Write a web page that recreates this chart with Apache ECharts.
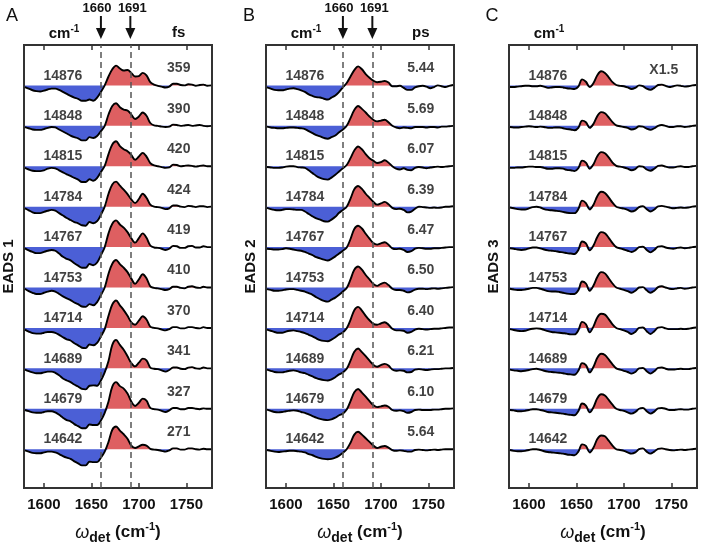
<!DOCTYPE html>
<html>
<head>
<meta charset="utf-8">
<script src="https://cdn.jsdelivr.net/npm/echarts@6/dist/echarts.min.js"></script>
<style>
  html, body { margin: 0; padding: 0; background: #fff; }
  #main { width: 702px; height: 548px; }
</style>
</head>
<body>
<div id="main"></div>
<script>
// detection frequency (cm-1)
const omega = [1580, 1584, 1588, 1592, 1596, 1600, 1604, 1608, 1612, 1616,
  1620, 1624, 1628, 1632, 1636, 1640, 1644, 1648, 1652, 1656,
  1660, 1664, 1668, 1672, 1676, 1680, 1684, 1688, 1692, 1696,
  1700, 1704, 1708, 1712, 1716, 1720, 1724, 1728, 1732, 1736,
  1740, 1744, 1748, 1752, 1756, 1760, 1764, 1768, 1772, 1776];

// excitation frequency of each trace (cm-1), top to bottom
const excitation = ['14876', '14848', '14815', '14784', '14767', '14753', '14714', '14689', '14679', '14642'];
const lifetime1 = ['359', '390', '420', '424', '419', '410', '370', '341', '327', '271']; // fs
const lifetime2 = ['5.44', '5.69', '6.07', '6.39', '6.47', '6.50', '6.40', '6.21', '6.10', '5.64']; // ps
const xTicks = [1600, 1650, 1700, 1750];
const markers = [1660, 1691];

// EADS 1 traces
const eads1 = [
  [-0.4, -0.8, -1.2, -1.4, -1.5, -1.3, -1.0, -0.8, -0.8, -1.1, -1.6, -2.1, -2.6, -3.0, -3.3, -3.8, -3.8, -3.5, -3.8, -3.0, -1.6, 0.0, 2.2, 4.0, 4.9, 4.2, 3.7, 3.8, 3.1, 2.2, 2.3, 3.1, 2.5, 0.8, 0.2, -0.1, -0.3, -0.5, -0.3, 0.4, 0.4, 0.1, 0.0, 0.3, 0.2, -0.1, 0.1, 0.2, -0.1, 0.0],
  [-0.3, -0.6, -0.9, -1.0, -1.0, -0.8, -0.5, -0.3, -0.4, -0.9, -1.4, -1.9, -2.4, -2.8, -3.1, -3.6, -3.6, -2.8, -3.0, -2.5, -1.3, 0.0, 2.8, 4.9, 5.6, 4.6, 4.0, 3.8, 2.8, 1.7, 2.3, 3.3, 2.5, 0.7, 0.1, 0.0, -0.2, -0.3, -0.2, 0.3, 0.2, 0.0, 0.1, 0.2, 0.0, 0.1, 0.2, 0.0, -0.1, 0.0],
  [-0.4, -0.8, -1.1, -1.2, -1.2, -1.0, -0.6, -0.4, -0.5, -1.0, -1.5, -2.0, -2.4, -2.9, -3.3, -3.9, -3.9, -3.2, -3.6, -2.9, -1.4, 0.1, 3.0, 5.4, 6.2, 5.0, 4.2, 3.7, 2.8, 1.6, 2.4, 3.3, 2.4, 0.8, 0.2, 0.0, -0.2, -0.4, -0.3, 0.4, 0.3, 0.0, 0.1, 0.2, 0.1, -0.1, 0.1, 0.2, 0.0, 0.0],
  [-0.4, -0.9, -1.4, -1.6, -1.6, -1.3, -1.0, -0.8, -1.0, -1.6, -2.2, -2.8, -3.3, -3.8, -4.1, -4.6, -4.7, -3.8, -4.1, -3.6, -2.0, 0.0, 3.2, 5.5, 6.2, 5.2, 4.2, 3.1, 1.8, 0.9, 1.9, 3.2, 2.2, 0.5, 0.0, -0.1, -0.3, -0.6, -0.4, 0.3, 0.3, 0.0, -0.1, 0.2, 0.1, -0.1, 0.1, 0.1, -0.1, 0.0],
  [-0.3, -0.8, -1.2, -1.5, -1.5, -1.2, -0.9, -0.7, -0.9, -1.6, -2.4, -2.9, -3.3, -4.0, -4.6, -5.1, -5.1, -4.2, -4.5, -3.8, -2.0, 0.0, 3.4, 5.8, 6.6, 5.6, 4.8, 3.7, 2.2, 1.1, 2.2, 3.4, 2.3, 0.4, -0.1, -0.2, -0.4, -0.7, -0.4, 0.3, 0.2, -0.2, -0.2, 0.2, 0.3, -0.1, -0.1, 0.2, 0.0, 0.0],
  [-0.3, -0.9, -1.3, -1.6, -1.6, -1.3, -1.0, -0.8, -1.0, -1.6, -2.2, -2.7, -3.1, -3.7, -4.1, -4.7, -4.8, -4.1, -4.4, -3.6, -1.9, 0.0, 3.4, 5.9, 6.8, 5.8, 4.9, 3.8, 2.2, 0.9, 2.0, 3.3, 2.3, 0.3, -0.1, -0.2, -0.4, -0.6, -0.4, 0.2, 0.2, -0.1, -0.2, 0.2, 0.3, 0.0, -0.1, 0.2, 0.0, 0.0],
  [-0.4, -0.9, -1.3, -1.4, -1.4, -1.2, -1.0, -1.0, -1.2, -1.7, -2.3, -2.8, -3.1, -3.8, -4.3, -4.9, -5.0, -4.1, -4.3, -3.7, -2.1, -0.3, 3.0, 5.8, 6.8, 5.6, 4.4, 3.0, 1.4, 0.8, 1.8, 2.9, 2.1, 0.3, 0.0, -0.1, -0.4, -0.6, -0.3, 0.2, 0.2, -0.1, -0.1, 0.2, 0.2, 0.0, -0.1, 0.2, 0.0, 0.0],
  [-0.3, -0.7, -1.0, -1.2, -1.2, -1.0, -0.8, -0.8, -1.1, -1.7, -2.5, -3.0, -3.4, -4.0, -4.5, -5.1, -5.2, -4.3, -4.2, -4.3, -3.0, -1.0, 1.8, 5.8, 7.0, 5.8, 4.6, 3.0, 1.3, 0.5, 1.4, 2.4, 2.0, 0.2, -0.1, -0.2, -0.5, -0.8, -0.4, 0.2, 0.2, -0.1, -0.2, 0.2, 0.3, 0.0, -0.1, 0.2, 0.0, 0.0],
  [-0.3, -0.6, -0.9, -1.0, -1.0, -0.8, -0.6, -0.6, -0.9, -1.5, -2.2, -2.8, -3.1, -3.8, -4.3, -4.8, -4.8, -3.9, -4.0, -4.0, -2.9, -1.0, 1.8, 5.5, 6.6, 5.6, 5.0, 3.8, 1.8, 0.7, 1.5, 2.5, 2.0, 0.2, -0.1, -0.2, -0.5, -0.8, -0.4, 0.2, 0.2, -0.1, -0.1, 0.2, 0.2, 0.0, -0.1, 0.1, 0.0, 0.0],
  [-0.3, -0.6, -0.9, -1.0, -1.0, -0.8, -0.6, -0.6, -0.8, -1.2, -1.7, -2.1, -2.4, -3.0, -3.5, -4.0, -4.0, -3.1, -3.2, -3.2, -2.1, -0.6, 1.8, 4.8, 5.6, 4.6, 3.7, 2.6, 0.9, 0.3, 0.7, 1.1, 0.9, 0.1, -0.1, -0.2, -0.4, -0.6, -0.3, 0.2, 0.2, -0.1, -0.1, 0.2, 0.2, 0.0, -0.1, 0.1, 0.0, 0.0]
];

// EADS 2 traces
const eads2 = [
  [-0.5, -0.8, -1.1, -1.2, -1.2, -1.0, -0.8, -0.7, -0.9, -1.2, -1.6, -2.2, -2.6, -2.9, -3.0, -3.3, -3.5, -3.0, -2.5, -1.6, -0.5, 0.6, 2.2, 3.8, 4.7, 4.0, 2.8, 1.9, 1.2, 0.8, 0.9, 1.1, 0.7, -0.2, -0.2, -0.1, -0.6, -1.1, -1.1, -0.5, -0.2, -0.1, -0.3, -0.7, -0.4, 0.0, -0.2, -0.4, -0.1, 0.1],
  [-0.2, -0.4, -0.5, -0.6, -0.6, -0.5, -0.4, -0.4, -0.5, -0.6, -0.8, -1.3, -1.8, -2.3, -2.6, -3.0, -3.2, -2.8, -2.4, -1.6, -0.9, 0.0, 1.9, 3.9, 4.9, 4.2, 3.3, 2.3, 1.5, 1.1, 1.3, 1.5, 0.9, 0.0, -0.4, -0.6, -0.4, -0.5, -0.6, -0.3, -0.3, -0.3, -0.4, -0.3, -0.3, -0.4, -0.2, -0.2, -0.1, 0.0],
  [-0.2, -0.3, -0.4, -0.4, -0.3, -0.1, 0.0, 0.0, -0.2, -0.3, -0.4, -1.0, -1.7, -2.4, -2.9, -3.2, -3.3, -2.8, -2.1, -1.3, -0.5, 0.3, 2.0, 3.9, 4.9, 4.2, 3.0, 2.0, 1.4, 0.8, 1.0, 1.5, 0.9, 0.0, -0.6, -0.8, -0.5, -0.9, -1.0, -0.4, -0.2, -0.3, -0.5, -0.3, -0.2, -0.1, -0.2, -0.1, 0.0, 0.1],
  [-0.3, -0.6, -0.8, -0.9, -0.8, -0.6, -0.6, -0.7, -0.8, -0.8, -1.2, -1.8, -2.4, -2.9, -3.2, -3.6, -3.7, -3.2, -2.5, -1.5, -0.8, 0.0, 2.0, 4.3, 5.1, 4.4, 3.2, 2.2, 1.2, 0.5, 0.8, 1.2, 0.6, -0.3, -0.6, -0.5, -0.8, -1.4, -1.2, -0.5, 0.0, -0.1, -0.2, -0.3, -0.2, -0.3, -0.2, 0.0, 0.0, 0.1],
  [-0.4, -0.5, -0.6, -0.6, -0.5, -0.3, -0.4, -0.6, -0.8, -0.9, -1.2, -1.6, -2.0, -2.5, -2.8, -3.1, -3.3, -2.9, -2.3, -1.6, -0.9, -0.1, 2.0, 4.5, 5.3, 4.6, 3.3, 2.1, 1.0, 0.6, 0.9, 1.2, 0.6, -0.3, -0.5, -0.4, -0.7, -1.2, -1.0, -0.4, -0.2, -0.3, -0.4, -0.4, -0.3, -0.3, -0.2, -0.1, 0.0, 0.0],
  [-0.4, -0.6, -0.8, -0.8, -0.7, -0.5, -0.4, -0.4, -0.6, -0.8, -1.0, -1.4, -1.8, -2.4, -2.9, -3.3, -3.5, -3.0, -2.5, -1.8, -1.0, -0.1, 2.0, 4.4, 5.2, 4.4, 3.1, 2.0, 0.9, 0.4, 0.9, 1.2, 0.6, -0.3, -0.6, -0.6, -0.8, -1.2, -1.0, -0.5, -0.3, -0.3, -0.4, -0.3, -0.2, -0.3, -0.2, -0.1, 0.0, 0.1],
  [-0.4, -0.7, -1.0, -1.2, -1.2, -0.9, -0.7, -0.6, -0.8, -1.0, -1.3, -1.7, -2.1, -2.6, -3.0, -3.2, -3.3, -2.9, -2.3, -1.6, -1.1, -0.1, 2.0, 4.4, 5.2, 4.3, 3.0, 1.9, 1.0, 0.8, 1.1, 1.4, 0.8, -0.2, -0.6, -0.6, -0.7, -1.2, -1.0, -0.4, -0.2, -0.3, -0.4, -0.3, -0.2, -0.2, -0.1, 0.0, 0.1, 0.1],
  [-0.3, -0.6, -0.9, -1.0, -1.0, -0.8, -0.6, -0.5, -0.7, -1.0, -1.2, -1.6, -2.0, -2.4, -2.7, -2.9, -3.0, -2.7, -2.2, -1.5, -1.0, -0.1, 1.9, 4.1, 4.9, 4.0, 3.0, 1.9, 0.9, 0.4, 0.8, 1.1, 0.7, -0.3, -0.6, -0.5, -0.6, -1.0, -0.9, -0.3, -0.2, -0.3, -0.4, -0.3, -0.2, -0.2, -0.1, 0.0, 0.0, 0.1],
  [-0.2, -0.5, -0.8, -0.9, -0.8, -0.6, -0.5, -0.4, -0.5, -0.8, -1.0, -1.4, -1.8, -2.2, -2.5, -2.7, -2.8, -2.6, -2.2, -1.6, -1.2, -0.2, 1.9, 4.1, 4.9, 4.0, 3.0, 1.9, 0.9, 0.4, 0.6, 0.8, 0.5, -0.3, -0.5, -0.4, -0.6, -1.0, -0.8, -0.3, -0.2, -0.3, -0.3, -0.3, -0.2, -0.2, -0.1, 0.0, 0.0, 0.1],
  [-0.2, -0.4, -0.6, -0.7, -0.6, -0.5, -0.4, -0.4, -0.5, -0.6, -0.8, -1.2, -1.5, -1.9, -2.2, -2.4, -2.5, -2.4, -2.1, -1.6, -0.9, 0.0, 1.6, 3.6, 4.3, 3.6, 2.7, 1.8, 0.9, 0.3, 0.6, 0.8, 0.4, -0.2, -0.4, -0.3, -0.4, -0.6, -0.6, -0.2, -0.1, -0.2, -0.3, -0.2, -0.1, -0.2, -0.1, 0.0, 0.0, 0.0]
];

// EADS 3 traces (shown x1.5)
const eads3 = [
  [-0.4, -0.4, -0.3, -0.2, -0.1, -0.1, -0.2, -0.2, -0.1, -0.3, -0.6, -0.5, -0.4, -0.4, -0.5, -0.7, -0.8, -0.9, -0.3, 1.5, 0.9, -0.4, 0.6, 2.5, 3.5, 3.1, 2.0, 0.8, 0.1, -0.1, -0.2, -0.5, -0.9, -0.6, 0.0, -0.2, -0.8, -1.1, -0.6, 0.1, 0.2, -0.1, -0.4, -0.2, 0.0, -0.1, -0.3, -0.2, 0.0, 0.1],
  [-0.3, -0.4, -0.4, -0.3, -0.2, -0.1, -0.2, -0.3, -0.2, -0.3, -0.5, -0.5, -0.4, -0.4, -0.6, -0.8, -0.9, -1.1, -0.5, 1.3, 0.9, -0.5, 0.5, 2.4, 3.4, 3.1, 2.1, 0.9, 0.1, -0.1, -0.3, -0.5, -0.9, -0.7, -0.1, -0.2, -0.7, -1.0, -0.6, 0.0, 0.2, 0.0, -0.3, -0.3, -0.1, -0.1, -0.3, -0.2, 0.0, 0.1],
  [-0.4, -0.4, -0.3, -0.3, -0.2, -0.1, -0.1, -0.2, -0.2, -0.4, -0.6, -0.6, -0.5, -0.5, -0.6, -0.9, -1.0, -1.2, -0.5, 1.4, 0.9, -0.6, 0.5, 2.5, 3.5, 3.2, 2.2, 0.9, 0.1, -0.1, -0.3, -0.6, -1.0, -0.7, 0.0, -0.1, -0.8, -1.1, -0.6, 0.1, 0.2, -0.1, -0.3, -0.3, -0.1, 0.0, -0.2, -0.2, 0.0, 0.1],
  [-0.2, -0.4, -0.6, -0.7, -0.7, -0.4, -0.1, 0.0, -0.2, -0.6, -0.8, -0.9, -1.0, -1.1, -1.3, -1.5, -1.6, -1.6, -0.6, 1.5, 0.9, -0.7, 0.5, 2.6, 3.7, 3.4, 2.3, 1.0, 0.0, -0.3, -0.5, -0.8, -1.2, -0.9, -0.1, 0.1, -0.6, -1.2, -0.7, 0.1, 0.2, 0.0, -0.2, -0.4, -0.3, -0.2, -0.3, -0.2, 0.0, 0.1],
  [-0.3, -0.4, -0.6, -0.7, -0.6, -0.3, -0.1, -0.1, -0.3, -0.6, -0.8, -0.9, -1.0, -1.2, -1.3, -1.5, -1.6, -1.7, -0.7, 1.4, 0.9, -0.8, 0.4, 2.5, 3.7, 3.4, 2.3, 1.0, 0.0, -0.3, -0.6, -0.9, -1.2, -0.8, 0.0, 0.1, -0.7, -1.3, -0.7, 0.1, 0.2, -0.1, -0.3, -0.4, -0.2, -0.1, -0.3, -0.2, 0.0, 0.1],
  [-0.3, -0.5, -0.6, -0.6, -0.5, -0.3, -0.1, -0.1, -0.3, -0.6, -0.9, -1.0, -1.0, -1.1, -1.3, -1.5, -1.6, -1.6, -0.7, 1.5, 1.0, -0.8, 0.5, 2.6, 3.8, 3.5, 2.3, 1.0, 0.0, -0.3, -0.6, -0.9, -1.3, -0.8, 0.0, 0.1, -0.7, -1.3, -0.8, 0.1, 0.3, 0.0, -0.3, -0.4, -0.2, -0.1, -0.3, -0.2, 0.0, 0.1],
  [-0.3, -0.5, -0.7, -0.8, -0.7, -0.4, -0.2, -0.1, -0.2, -0.5, -0.8, -1.0, -1.1, -1.2, -1.3, -1.4, -1.6, -1.6, -0.6, 1.5, 0.9, -1.1, 0.4, 2.6, 3.5, 3.3, 2.2, 0.9, 0.0, -0.3, -0.6, -1.0, -1.5, -1.0, 0.0, 0.1, -0.8, -1.5, -0.8, 0.1, 0.2, -0.1, -0.3, -0.3, -0.3, -0.2, -0.3, -0.2, 0.0, 0.1],
  [-0.3, -0.5, -0.6, -0.7, -0.6, -0.4, -0.2, -0.1, -0.3, -0.6, -0.8, -0.9, -1.0, -1.1, -1.2, -1.4, -1.5, -1.6, -0.6, 1.3, 0.8, -1.0, 0.4, 2.6, 3.6, 3.3, 2.2, 1.0, 0.0, -0.3, -0.6, -0.9, -1.3, -0.9, 0.0, 0.1, -0.7, -1.3, -0.7, 0.1, 0.2, -0.1, -0.3, -0.3, -0.2, -0.1, -0.2, -0.2, 0.0, 0.1],
  [-0.3, -0.4, -0.6, -0.6, -0.5, -0.3, -0.1, -0.1, -0.3, -0.5, -0.8, -0.9, -1.0, -1.1, -1.2, -1.4, -1.5, -1.6, -0.6, 1.3, 0.8, -0.9, 0.4, 2.6, 3.6, 3.3, 2.2, 1.0, 0.0, -0.3, -0.5, -0.9, -1.2, -0.8, 0.0, 0.2, -0.6, -1.2, -0.7, 0.1, 0.2, 0.0, -0.3, -0.3, -0.2, -0.1, -0.2, -0.2, 0.0, 0.1],
  [-0.2, -0.4, -0.5, -0.5, -0.4, -0.2, 0.0, 0.0, -0.2, -0.5, -0.7, -0.8, -0.9, -1.0, -1.1, -1.3, -1.4, -1.5, -0.6, 1.2, 0.8, -0.8, 0.4, 2.5, 3.4, 3.2, 2.1, 0.9, 0.0, -0.2, -0.4, -0.8, -1.1, -0.8, 0.0, 0.2, -0.6, -1.1, -0.6, 0.1, 0.2, 0.0, -0.2, -0.3, -0.2, -0.1, -0.2, -0.1, 0.0, 0.1]
];

const STEP = 10;            // vertical offset between traces
const RED = '#de5f61';
const BLUE = '#4b5fd6';
const INK = '#111';
const FONT = 'Liberation Sans, Arial, sans-serif';
const SMOOTH = 0.35;

const panels = [
  { traces: eads1, name: 'EADS 1', tags: lifetime1, unit: 'fs', dashed: true, letter: 'A', letterX: 12 },
  { traces: eads2, name: 'EADS 2', tags: lifetime2, unit: 'ps', dashed: true, letter: 'B', letterX: 249 },
  { traces: eads3, name: 'EADS 3', tags: ['X1.5'], unit: null, dashed: false, letter: 'C', letterX: 492 }
];
const lefts = [24, 266, 509];

let myChart = echarts.init(document.getElementById('main'));

const grid = [], xAxis = [], yAxis = [], series = [];
panels.forEach((pn, p) => {
  grid.push({ left: lefts[p], top: 45, width: 188, height: 443, show: true,
    borderColor: '#333', borderWidth: 2, backgroundColor: 'transparent' });
  const axisBase = {
    type: 'value', gridIndex: p, min: 1579, max: 1777,
    axisLine: { show: false, onZero: false }, splitLine: { show: false },
    axisTick: { show: true, inside: true, length: 5, customValues: xTicks,
      lineStyle: { color: '#333', width: 1.5 } }
  };
  xAxis.push(Object.assign({}, axisBase, { position: 'bottom',
    axisLabel: { show: true, customValues: xTicks, margin: 9, color: INK,
      fontSize: 15, fontWeight: 'bold', fontFamily: FONT, formatter: v => String(v) } }));
  xAxis.push(Object.assign({}, axisBase, { position: 'top', axisLabel: { show: false } }));
  yAxis.push({ type: 'value', gridIndex: p, min: -9.6, max: 100,
    axisLine: { show: false }, axisTick: { show: false }, axisLabel: { show: false },
    splitLine: { show: false },
    name: pn.name, nameLocation: 'middle', nameGap: 8, nameRotate: 90,
    nameTextStyle: { color: INK, fontSize: 15, fontWeight: 'bold', fontFamily: FONT } });

  pn.traces.forEach((tr, k) => {
    const base = (9 - k) * STEP;
    const common = { type: 'line', xAxisIndex: 2 * p, yAxisIndex: p, silent: true,
      smooth: SMOOTH, symbol: 'none' };
    // positive part in red, negative part in blue, each filled to the trace's baseline
    series.push(Object.assign({}, common, {
      data: omega.map((w, j) => [w, base + Math.max(tr[j], 0)]), z: 1,
      lineStyle: { width: 0, color: RED }, areaStyle: { origin: base, opacity: 1, color: RED } }));
    series.push(Object.assign({}, common, {
      data: omega.map((w, j) => [w, base + Math.min(tr[j], 0)]), z: 1,
      lineStyle: { width: 0, color: BLUE }, areaStyle: { origin: base, opacity: 1, color: BLUE } }));
    const line = Object.assign({}, common, {
      data: omega.map((w, j) => [w, base + tr[j]]), z: 3,
      lineStyle: { color: '#000', width: 1.9 } });
    if (k === 9 && pn.dashed) {
      line.markLine = { silent: true, symbol: 'none', label: { show: false },
        lineStyle: { color: '#555', width: 1.5, type: [6, 4] },
        data: markers.map(m => ({ xAxis: m })) };
    }
    series.push(line);
  });

  // trace labels
  const labelData = excitation.map((s, k) => ({ value: [1620, (9 - k) * STEP + 2.4], name: s }));
  pn.tags.forEach((t, k) => {
    labelData.push({ value: [1742, (9 - k) * STEP + (pn.unit ? 4.2 : 3.9)], name: t });
  });
  series.push({
    type: 'scatter', xAxisIndex: 2 * p, yAxisIndex: p, silent: true, z: 5,
    symbolSize: 1, itemStyle: { color: 'transparent' },
    data: labelData,
    label: { show: true, position: 'inside', formatter: '{b}', color: INK,
      fontSize: 14, fontWeight: 'bold', fontFamily: FONT }
  });
});

myChart.setOption({
  animation: false,
  grid: grid, xAxis: xAxis, yAxis: yAxis, series: series
});

// annotations around the panels
const graphic = [];
const bold = { fontFamily: FONT, fontWeight: 'bold', fill: INK };
panels.forEach((pn, p) => {
  const px = v => myChart.convertToPixel({ xAxisIndex: 2 * p }, v);
  graphic.push({ type: 'text', x: pn.letterX, y: 16,
    style: { text: pn.letter, font: '18px ' + FONT, fill: INK, align: 'center', verticalAlign: 'middle' } });
  graphic.push({ type: 'text', x: lefts[p] + 40, y: 34,
    style: { text: '{a|cm}{s|-1}', align: 'center', verticalAlign: 'middle',
      rich: { a: Object.assign({ fontSize: 15 }, bold), s: Object.assign({ fontSize: 10, padding: [0, 0, 9, 0] }, bold) } } });
  if (pn.unit) {
    graphic.push({ type: 'text', x: px(1742), y: 33,
      style: Object.assign({ text: pn.unit, fontSize: 15, align: 'center', verticalAlign: 'middle' }, bold) });
  }
  if (pn.dashed) {
    markers.forEach((m, i) => {
      const x = px(m);
      graphic.push({ type: 'text', x: x + (i === 0 ? -4 : 2), y: 8,
        style: Object.assign({ text: String(m), fontSize: 13, align: 'center', verticalAlign: 'middle' }, bold) });
      graphic.push({ type: 'line', shape: { x1: x, y1: 16, x2: x, y2: 31 },
        style: { stroke: '#111', lineWidth: 2 } });
      graphic.push({ type: 'polygon', shape: { points: [[x - 5, 28], [x + 5, 28], [x, 39]] },
        style: { fill: '#111' } });
    });
  }
  // x axis title: omega_det (cm-1)
  graphic.push({ type: 'text', x: lefts[p] + 94, y: 532,
    style: { text: '{w|ω}{d|det}{p| (cm}{s|-1}{p|)}', align: 'center', verticalAlign: 'middle',
      rich: {
        w: { fontFamily: FONT, fontStyle: 'italic', fontSize: 18, fill: INK, padding: [2, 0, 0, 0] },
        d: Object.assign({ fontSize: 14, padding: [12, 0, 0, 0] }, bold),
        p: Object.assign({ fontSize: 17 }, bold),
        s: Object.assign({ fontSize: 11, padding: [0, 0, 10, 0] }, bold)
      } } });
});
myChart.setOption({ graphic: graphic });
</script>
</body>
</html>
